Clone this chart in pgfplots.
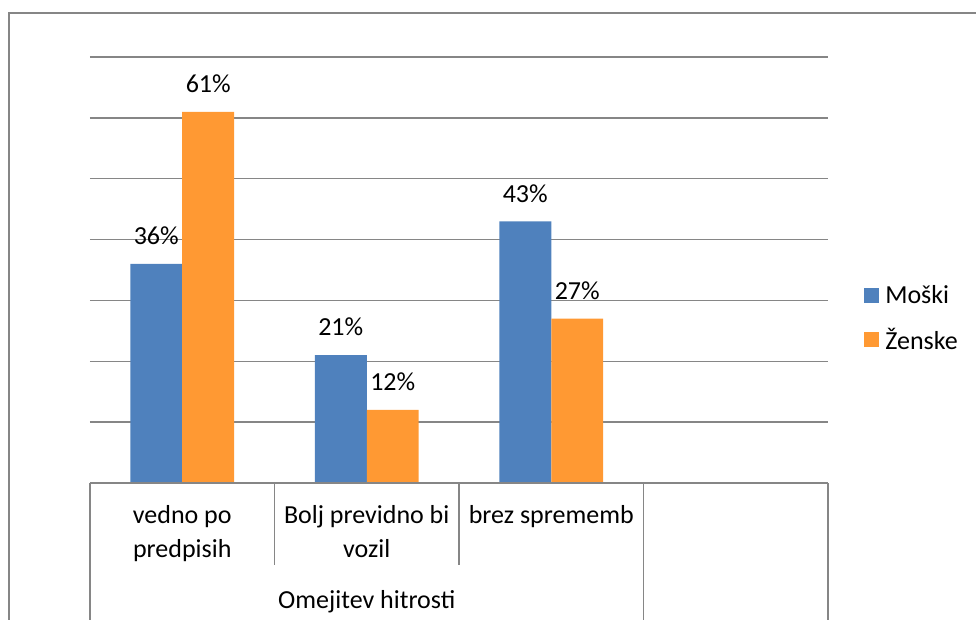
\documentclass[border=0pt]{standalone}
\usepackage{fontspec}
\setmainfont{Carlito}
\usepackage{pgfplots}
\pgfplotsset{compat=1.18}
\definecolor{moski}{RGB}{79,129,189}
\definecolor{zenske}{RGB}{255,153,51}
\definecolor{gridgray}{RGB}{134,134,134}
\newcommand\cf{\fontsize{19.5}{25.5}\selectfont}
\begin{document}
\begin{tikzpicture}[x=1pt,y=1pt]
\path[use as bounding box] (0,0) rectangle (732,464.25);
\draw[gridgray, line width=1.1pt] (6.75,-5) -- (6.75,454.5) -- (740,454.5);
\begin{axis}[
  at={(67.5pt,102pt)}, anchor=south west,
  scale only axis, width=553.5pt, height=319.5pt,
  xmin=-0.5, xmax=3.5, ymin=0, ymax=70,
  axis line style={draw=none},
  xtick=\empty,
  ytick={10,20,30,40,50,60,70},
  yticklabels={},
  tick style={draw=none},
  ymajorgrids,
  major grid style={gridgray, line width=1pt},
  clip=false,
  ybar=0pt,
  bar width=0.2818,
  /pgf/number format/assume math mode=true,
  nodes near coords={\pgfmathprintnumber{\pgfplotspointmeta}\%},
  every node near coord/.append style={font=\cf, anchor=center, yshift=21pt, text=black},
  legend style={at={(1.0488,0.386)}, anchor=west, draw=none, fill=none, font=\cf,
    row sep=13.5pt, inner sep=0pt, nodes={inner sep=1.5pt, anchor=west}},
  legend cell align=left,
  legend image code/.code={\fill[#1, draw=none] (0pt,-5.6pt) rectangle (11.25pt,5.6pt);},
]
\addplot[fill=moski, draw=none, bar shift=-0.1409] coordinates {(0,36) (1,21) (2,43)};
\addplot[fill=zenske, draw=none, bar shift=0.1409] coordinates {(0,61) (1,12) (2,27)};
\legend{\hspace{3pt}Moški, \hspace{3pt}Ženske}
\draw[gridgray, line width=1pt] (axis cs:-0.5,0) -- (axis cs:3.5,0);
\draw[gridgray, line width=1.2pt] (axis cs:-0.5,0) -- ([yshift=-110pt]axis cs:-0.5,0);
\draw[gridgray, line width=1.2pt] (axis cs:2.5,0) -- ([yshift=-110pt]axis cs:2.5,0);
\draw[gridgray, line width=1.2pt] (axis cs:3.5,0) -- ([yshift=-110pt]axis cs:3.5,0);
\draw[gridgray, line width=1.2pt] (axis cs:0.5,0) -- ([yshift=-61.5pt]axis cs:0.5,0);
\draw[gridgray, line width=1.2pt] (axis cs:1.5,0) -- ([yshift=-61.5pt]axis cs:1.5,0);
\node[font=\cf, anchor=base] at ([yshift=-30pt]axis cs:0,0) {vedno po};
\node[font=\cf, anchor=base] at ([yshift=-55.5pt]axis cs:0,0) {predpisih};
\node[font=\cf, anchor=base] at ([yshift=-30pt]axis cs:1,0) {Bolj previdno bi};
\node[font=\cf, anchor=base] at ([yshift=-55.5pt]axis cs:1,0) {vozil};
\node[font=\cf, anchor=base] at ([yshift=-30pt]axis cs:2,0) {brez sprememb};
\node[font=\cf, anchor=base] at ([yshift=-93.75pt]axis cs:1,0) {Omejitev hitrosti};
\end{axis}
\end{tikzpicture}
\end{document}
